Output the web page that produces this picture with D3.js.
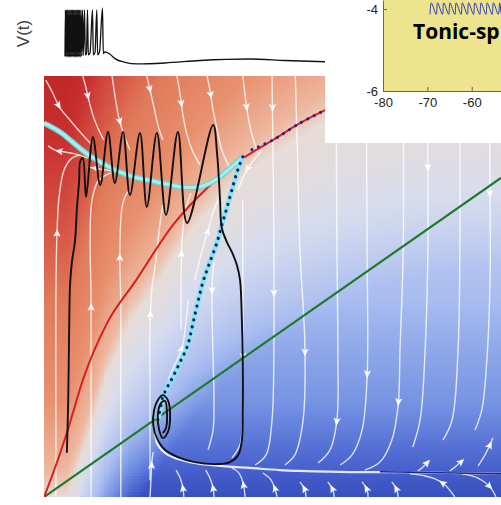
<!DOCTYPE html>
<html><head><meta charset="utf-8">
<script src="https://cdn.jsdelivr.net/npm/d3@7"></script>
<style>body{margin:0;background:#fff;}svg{display:block;}</style>
</head><body>
<svg id="c" width="501" height="505"></svg>
<script>
// ---------------- DATA ----------------
// V(t) trace: [time (s), voltage (mV)]
const vTrace = [[0,-54],[0.004,20],[0.009,-55],[0.015,20],[0.021,-55],[0.027,20],[0.033,-55],[0.039,20],[0.045,-55],[0.051,20],[0.057,-55],[0.063,20],[0.069,-55],[0.075,20],[0.081,-55],[0.087,20],[0.093,-55],[0.099,20],[0.105,-55],[0.111,20],[0.117,-55],[0.123,20],[0.129,-55],[0.135,20],[0.141,-55],[0.147,20],[0.153,-55],[0.160,20],[0.167,-54],[0.175,20],[0.182,-53],[0.195,20],[0.203,-52],[0.215,-50],[0.225,20],[0.233,-52],[0.25,-49],[0.275,20],[0.283,-52],[0.30,-48],[0.318,20],[0.326,-52],[0.345,-47],[0.375,23],[0.383,-50],[0.40,-47],[0.45,-51],[0.50,-58],[0.60,-64],[0.72,-66.5],[1.0,-65],[1.35,-61],[1.85,-58.6],[2.2,-61],[2.6,-63]];

// Phase plane (normalised units 0..100)
const redNullcline = [[0,0],[2.0,5.7],[5.0,15.2],[8.5,27.8],[13.8,41.3],[19.9,51.1],[28.2,64.6],[35.7,73.4],[42.9,80.0],[50.1,84.8],[56.0,88.8],[61.5,91.9],[70,95.5],[80,98.5],[100,101]];
const greenNullcline = [[0,0],[100,75.8]];
const slowManifold = [[0,88.8],[3.5,86.7],[10.1,81.0],[18.2,76.5],[24,75],[30.4,73.6],[34.5,73.8],[37.9,75.6],[41.4,78.7],[43.5,80.8]];
const separatrix = [[43.5,80.8],[42.4,77.7],[41.1,72.9],[40.0,68.6],[38.9,64.6],[37.9,60.6],[36.3,55.8],[34.8,51.1],[33.0,43.2],[31.3,35.6],[29.8,32.1],[28.2,28.5],[26.9,25.9],[26.0,23.8],[25.4,20.7],[24.9,18.3]];
const unstableBranch = [[45.5,82.5],[50.1,84.8],[56.0,88.8],[61.5,91.9]];
const trajectory = [[5.0,10.5],[5.3,23.0],[5.5,39.7],[5.7,50.4],[6.1,55.8],[6.8,61.0],[7.2,68.6],[7.7,75.3],[7.9,79.6],[8.5,80.5],[9.2,71.3],[10.7,85.5],[12.3,74.1],[14.0,86.7],[15.5,74.6],[17.3,86.7],[18.8,71.7],[21.0,86.5],[22.5,68.9],[24.7,86.5],[26.7,67.0],[29.3,86.7],[31.3,65.1],[37.0,88.4],[37.9,81.2],[38.5,71.0],[38.9,63.9],[40.0,60.6],[41.1,58.2],[42.2,55.1],[42.9,51.5],[43.3,42.0],[43.5,32.5],[43.5,20.7],[43.3,13.5],[42.5,10.0],[40.7,8.3],[37.4,7.8],[33.0,8.3],[29.3,9.5],[26.5,11.2],[24.7,14.0],[23.9,17.1],[24.1,20.7],[24.9,23.0],[26.0,24.2],[27.1,23.0],[27.6,19.5],[27.1,15.4],[26.0,14.0],[25.2,15.9],[24.9,19.5],[25.6,22.3],[26.5,22.8],[26.9,20.2],[26.7,16.4],[26.0,15.2]];
const stableBranch = [[24.3,15.4],[24.9,12.4],[27.1,10.0],[31.9,8.3],[38.5,7.4],[45.1,6.9],[51.6,6.4],[56.0,6.2],[67.0,5.9],[77.9,5.9],[88.8,5.7],[100,5.5]];
const stableNavy = [[73.5,6.0],[80,5.9],[90,5.7],[100,5.5]];

const streamlines = [
 [[0.4,99.0],[1.8,96.2],[3.5,92.4],[5.7,89.5],[7.9,86.7],[10.5,83.6]],
 [[8.5,100],[9.2,97.1],[9.8,94.3],[10.7,90.7],[11.8,87.6],[13.1,84.8]],
 [[14.9,100],[15.5,95.5],[16.4,90.0],[17.5,86.0],[18.8,82.4]],
 [[22.5,100],[23.2,96.7],[24.1,92.4],[24.9,88.4],[26.0,84.8]],
 [[29.1,100],[29.8,95.5],[30.4,90.7],[31.3,86.0],[32.4,82.4],[34.1,78.9]],
 [[35.7,100],[36.3,96.7],[37.0,91.9],[37.9,87.2],[38.9,82.4],[40.7,78.1]],
 [[43.5,100],[44.0,95.5],[44.6,90.7],[45.5,86.0],[46.8,81.9]],
 [[49.9,100],[50.1,82.4],[50.3,58.7],[50.3,34.9],[49.9,18.3],[48.6,10.0],[46.2,7.6]],
 [[43.5,70.5],[43.5,46.8],[43.5,23.0],[42.9,12.4],[41.1,9.3]],
 [[55.0,100],[55.4,84.1],[56.0,58.7],[57.1,35.4],[56.7,18.3],[54.9,10.0],[52.7,7.6]],
 [[63.9,100],[64.1,58.7],[64.3,34.9],[64.1,18.3],[62.6,11.2],[60.0,8.1]],
 [[70.5,100],[70.7,58.7],[70.7,28.5],[69.6,15.9],[67.4,10.0],[64.8,7.6]],
 [[78.6,100],[78.6,58.7],[77.9,34.9],[77.5,21.9],[76.1,13.5],[73.5,8.3],[70.2,6.4]],
 [[83.8,100],[84.0,78.4],[84.0,58.7],[83.4,34.9],[82.3,18.3],[80.7,11.9]],
 [[91.0,100],[91.0,58.7],[90.6,34.9],[89.3,18.3],[87.3,13.5]],
 [[97.4,100],[97.6,71.7],[97.6,51.5],[96.9,32.5],[95.8,20.7],[94.3,15.9]],
 [[23.2,0],[23.4,4.0],[23.6,8.3],[23.9,10.7]],
 [[30.6,0],[30.4,2.1],[29.8,4.5],[28.9,6.4]],
 [[37.2,0],[37.0,2.1],[36.3,4.5],[35.4,6.4]],
 [[44.0,0],[43.5,3.6],[42.5,5.9],[41.1,6.9]],
 [[51.0,0],[50.5,2.1],[49.5,4.3],[47.9,5.7]],
 [[57.3,0],[57.1,1.7],[56.0,3.6]],
 [[63.5,0],[63.2,1.7],[62.1,3.6]],
 [[70.9,0],[70.7,1.7],[69.6,3.6]],
 [[77.5,0],[77.2,1.7],[76.1,3.6]],
 [[89.9,0],[87.7,2.9],[85.6,4.3],[83.4,5.0],[80.1,5.5]],
 [[91.5,5.5],[95.0,4.5],[97.6,2.4],[98.9,0]],
 [[81.8,6.2],[82.9,7.1],[84.0,8.3]],
 [[88.8,6.2],[89.9,7.1],[91.5,8.6]],
 [[95.0,7.4],[96.5,10.0],[97.6,12.4],[98.2,14.0]],
 [[2.6,0],[2.6,23.0],[2.6,46.8],[2.8,61.0],[3.3,71.3],[4.4,77.7],[6.1,80.5],[8.1,81.2]],
 [[10.3,0],[10.3,23.0],[10.3,47.5],[10.1,61.0],[10.5,70.5],[12.0,75.3],[14.7,77.0]],
 [[16.8,0],[16.8,23.0],[16.8,46.8],[16.6,58.0],[17.1,68.9],[18.2,72.2],[19.3,72.9]],
 [[23.2,4.0],[23.2,23.0],[23.2,41.3],[23.6,49.2],[24.5,56.3],[25.2,63.4],[26.0,69.4]],
 [[30.0,39.7],[30.0,46.8],[30.2,61.0],[31.1,68.9],[32.2,72.2]],
 [[26.5,24.2],[27.6,29.0],[29.1,32.5],[30.2,35.4],[31.1,42.0],[31.5,46.8]],
 [[9.6,80.5],[6.8,81.5],[4.2,82.0],[2.4,82.4],[0.9,83.4]],
 [[16.2,77.2],[13.3,77.7],[11.2,78.1],[9.6,78.4]],
 [[33.0,51.5],[34.6,58.7],[35.9,63.4],[37.0,67.7],[38.1,70.5]],
 [[47.7,82.4],[45.1,78.9],[43.5,75.8],[42.5,72.9]],
 [[37.2,55.8],[36.8,50.4],[36.8,42.0],[37.0,32.5],[37.2,23.0],[37.0,15.9],[35.9,11.2]]
];
const arrowAt = [[0.35],[0.3],[0.6],[0.2],[0.3],[0.2],[0.4],[0.08,0.55],[0.6],[0.7],[0.88],[0.75],[0.8],[0.245],[],[0.33],
 [0.7],[0.3],[0.3],[0.35],[0.3],[0.5],[0.5],[0.5],[0.5],[0.35],[0.7],[0.9],[0.9],[0.75],
 [0.75],[0.57],[0.77],[0.6],[0.55],[0.5],[0.7],[0.75],[0.6],[0.5],[0.15]];

// Inset
const insetXTicks = [-80,-70,-60];
const insetYTicks = [-4,-6];
const tonicTrace = [[-69.4,-4.13],[-69.1,-3.85],[-68.0,-4.13],[-67.7,-3.85],[-66.6,-4.13],[-66.3,-3.85],[-65.2,-4.13],[-64.9,-3.85],[-63.8,-4.13],[-63.5,-3.85],[-62.4,-4.13],[-62.1,-3.85],[-61.0,-4.13],[-60.7,-3.85],[-59.6,-4.13],[-59.3,-3.85],[-58.2,-4.13],[-57.9,-3.85],[-56.8,-4.13],[-56.5,-3.85],[-55.4,-4.13],[-55.1,-3.85],[-54.0,-4.13],[-53.7,-3.85],[-53.4,-4.1]];
const insetLabel = "Tonic-sp";

// ---------------- DRAW ----------------
const svg = d3.select('#c');
const defs = svg.append('defs');
defs.append('clipPath').attr('id','mclip').append('rect').attr('x',44).attr('y',76).attr('width',457).attr('height',421);

const x = d3.scaleLinear().domain([0,100]).range([44,501]);
const y = d3.scaleLinear().domain([0,100]).range([497,76]);

// background field
const rx = redNullcline.map(d=>d[0]);
function g(xv){
  if (xv<=0) return 0;
  const i = Math.min(d3.bisectRight(rx,xv), rx.length-1);
  const a = redNullcline[i-1], b = redNullcline[i];
  return a[1] + (b[1]-a[1])*(xv-a[0])/(b[0]-a[0]);
}
const redScale = d3.scaleLinear().domain([0,6,23,47,61,85,100]).range(["#e6dcd8","#eeb8a0","#e8906e","#e07a5a","#d85a48","#c83030","#c02828"]).clamp(true);
const blueScale = d3.scaleLinear().domain([0,14,42,64,82,97]).range(["#e6dcd8","#d6dcee","#a8bcf0","#7290e2","#4a64d0","#2e44b4"]).clamp(true);
const fY = d3.scaleLinear().domain([0,11,23,47,82,100]).range([92,78,62,42,14,5]).clamp(true);
const dx = 0.66, dy = 0.72;
const cells = [];
for (let xv=0; xv<100; xv+=dx) for (let yv=0; yv<100; yv+=dy) {
  const cx = xv+dx/2, cy = yv+dy/2;
  const s = cy - g(cx-5);
  const col = s>=0 ? redScale(s) : blueScale(fY(cy)*Math.min(1,-s/45));
  cells.push({xv,yv,col});
}
const main = svg.append('g').attr('clip-path','url(#mclip)');
main.append('g').attr('shape-rendering','crispEdges').selectAll('rect').data(cells).join('rect')
  .attr('x',d=>x(d.xv)).attr('y',d=>y(d.yv+dy)).attr('width',x(dx)-x(0)+0.6).attr('height',y(0)-y(dy)+0.6)
  .attr('fill',d=>d.col);

const line = d3.line().x(d=>x(d[0])).y(d=>y(d[1])).curve(d3.curveCatmullRom.alpha(0.5));
const sg = main.append('g');
const paths = sg.selectAll('path.s').data(streamlines).join('path').attr('class','s')
  .attr('d',line).attr('fill','none').attr('stroke','#fff').attr('stroke-opacity',0.78).attr('stroke-width',1.4);
paths.each(function(d,i){
  const L = this.getTotalLength();
  (arrowAt[i]||[]).forEach(f=>{
    const p = this.getPointAtLength(f*L), q = this.getPointAtLength(Math.min(L,f*L+1.5)), p0=this.getPointAtLength(Math.max(0,f*L-1.5));
    const ang = Math.atan2(q.y-p0.y, q.x-p0.x)*180/Math.PI;
    sg.append('path').attr('d','M4.5,0L-3.5,-3.6L-1.8,0L-3.5,3.6Z').attr('fill','#fff').attr('fill-opacity',0.95)
      .attr('transform',`translate(${p.x},${p.y}) rotate(${ang})`);
  });
});

const lin = d3.line().x(d=>x(d[0])).y(d=>y(d[1]));
main.append('path').attr('d',lin(greenNullcline)).attr('fill','none').attr('stroke','#1d7a2a').attr('stroke-width',2.2);
const smooth = d3.line().x(d=>x(d[0])).y(d=>y(d[1])).curve(d3.curveMonotoneX);
main.append('path').attr('d',smooth(redNullcline)).attr('fill','none').attr('stroke','#d81e1e').attr('stroke-width',2);
main.append('path').attr('d',line(unstableBranch)).attr('fill','none').attr('stroke','#1a2a8a').attr('stroke-width',3).attr('stroke-linecap','round').attr('stroke-dasharray','0.1,7');

main.append('path').attr('d',line(slowManifold)).attr('fill','none').attr('stroke','#6fd2d6').attr('stroke-width',5.5);
main.append('path').attr('d',line(slowManifold)).attr('fill','none').attr('stroke','#a4f0ee').attr('stroke-width',3);
main.append('path').attr('d',line(separatrix)).attr('fill','none').attr('stroke','#8ae6ea').attr('stroke-width',5);
main.append('path').attr('d',line(separatrix)).attr('fill','none').attr('stroke','#14207e').attr('stroke-width',3.2).attr('stroke-linecap','round').attr('stroke-dasharray','0.1,7');

main.append('path').attr('d',line(stableBranch)).attr('fill','none').attr('stroke','#fff').attr('stroke-opacity',0.85).attr('stroke-width',2.2);
main.append('path').attr('d',line(stableNavy)).attr('fill','none').attr('stroke','#1a2a90').attr('stroke-width',1.6);
main.append('path').attr('d',line(trajectory)).attr('fill','none').attr('stroke','#111').attr('stroke-width',1.9).attr('stroke-linejoin','round');

// V(t) trace
const tS = d3.scaleLinear().domain([0,2.6]).range([65,325]);
const vS = d3.scaleLinear().domain([-65,20]).range([63,10]);
svg.append('path').attr('d',d3.line().x(d=>tS(d[0])).y(d=>vS(d[1])).curve(d3.curveMonotoneX)(vTrace))
  .attr('fill','none').attr('stroke','#111').attr('stroke-width',1.3);
svg.append('text').attr('transform','translate(29,33.5) rotate(-90)').attr('text-anchor','middle')
  .attr('font-family','Liberation Sans, Arial, sans-serif').attr('font-size',17).attr('fill','#444').text('V(t)');

// Inset
const inset = svg.append('g');
inset.append('rect').attr('x',325).attr('y',0).attr('width',176).attr('height',143).attr('fill','#fff');
const xi = d3.scaleLinear().domain([-80,-53.4]).range([383,501]);
const yi = d3.scaleLinear().domain([-6,-3.78]).range([91,0]);
inset.append('rect').attr('x',xi(-80)).attr('y',yi(-3.78)).attr('width',xi(-53.4)-xi(-80)).attr('height',yi(-6)-yi(-3.78)).attr('fill','#eee48e');
inset.append('path').attr('d',d3.line().x(d=>xi(d[0])).y(d=>yi(d[1])).curve(d3.curveCatmullRom)(tonicTrace))
  .attr('fill','none').attr('stroke','#2238c8').attr('stroke-width',1);
inset.append('text').attr('x',413).attr('y',39).attr('font-family','Open Sans, sans-serif').attr('font-weight',700)
  .attr('font-size',21).attr('fill','#000').text(insetLabel);
const fmt = d => String(d);
const ax = inset.append('g').attr('transform',`translate(0,${yi(-6)})`)
  .call(d3.axisBottom(xi).tickValues(insetXTicks).tickFormat(fmt).tickSizeInner(-4).tickSizeOuter(0).tickPadding(7));
const ay = inset.append('g').attr('transform',`translate(${xi(-80)},0)`)
  .call(d3.axisLeft(yi).tickValues(insetYTicks).tickFormat(fmt).tickSizeInner(-4).tickSizeOuter(0).tickPadding(5));
[ax,ay].forEach(a=>{
  a.selectAll('path,line').attr('stroke','#666');
  a.selectAll('text').attr('font-family','Liberation Sans, Arial, sans-serif').attr('font-size',13).attr('fill','#222');
});
</script>
</body></html>
